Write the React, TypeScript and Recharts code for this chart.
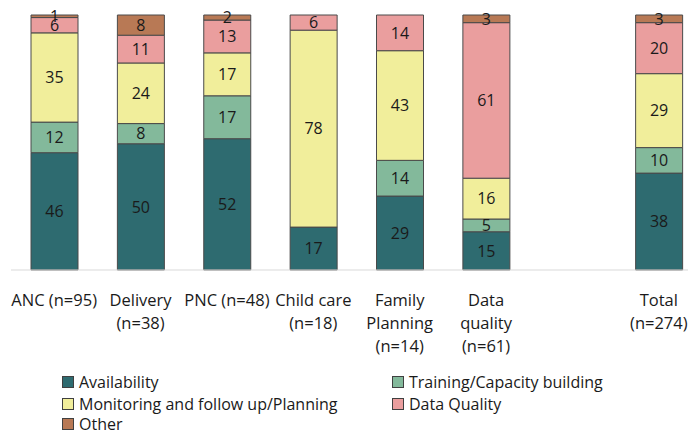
import { BarChart, Bar, XAxis, YAxis, Legend, LabelList } from 'recharts';

const categories = [
  ['ANC (n=95)'],
  ['Delivery', '(n=38)'],
  ['PNC (n=48)'],
  ['Child care', '(n=18)'],
  ['Family', 'Planning', '(n=14)'],
  ['Data', 'quality', '(n=61)'],
  [''],
  ['Total', '(n=274)'],
];

const availability = [46, 50, 52, 17, 29, 15, 0, 38];
const training = [12, 8, 17, 0, 14, 5, 0, 10];
const monitoring = [35, 24, 17, 78, 43, 16, 0, 29];
const dataQuality = [6, 11, 13, 6, 14, 61, 0, 20];
const other = [1, 8, 2, 0, 0, 3, 0, 3];

const seriesList = [
  { key: 'availability', name: 'Availability', color: '#2E6B70' },
  { key: 'training', name: 'Training/Capacity building', color: '#83B99B' },
  { key: 'monitoring', name: 'Monitoring and follow up/Planning', color: '#F1EE9B' },
  { key: 'dataQuality', name: 'Data Quality', color: '#EA9E9E' },
  { key: 'other', name: 'Other', color: '#B87955' },
];

const data = categories.map((lines, i) => ({
  id: String(i),
  lines,
  availability: availability[i],
  training: training[i],
  monitoring: monitoring[i],
  dataQuality: dataQuality[i],
  other: other[i],
}));

const FONT = '"Open Sans", sans-serif';

const CategoryTick = ({ x, y, payload }: { x?: number; y?: number; payload?: { index: number } }) => {
  const lines = categories[payload?.index ?? 0];
  return (
    <text textAnchor="middle" fontSize={16.5} fill="#1a1a1a" fontFamily={FONT}>
      {lines.map((l, i) => (
        <tspan key={i} x={x} y={(y ?? 0) + 34 + i * 23}>
          {l}
        </tspan>
      ))}
    </text>
  );
};

const LegendBox = () => {
  // two-column legend, same order as the series; last row kept short so it stays inside the page
  return (
    <div
      style={{
        display: 'grid',
        gridTemplateColumns: '330px 300px',
        gridTemplateRows: '22px 22px 18px',
        fontFamily: FONT,
        fontSize: 16,
        lineHeight: '16px',
        color: '#1a1a1a',
      }}
    >
      {seriesList.map((s) => (
        <div key={s.key} style={{ display: 'flex', alignItems: 'center', height: '100%', whiteSpace: 'nowrap' }}>
          <span style={{ width: 10, height: 10, background: s.color, border: '1px solid #404040', marginRight: 5, flexShrink: 0 }} />
          <span>{s.name}</span>
        </div>
      ))}
    </div>
  );
};

const hideZero = (v: unknown) => (v === 0 ? '' : (v as number));

export default function App() {
  return (
    <div style={{ position: 'absolute', left: 0, top: 0, width: 688, height: 433, overflow: 'hidden', background: '#fff' }}>
      <BarChart
        width={702}
        height={433}
        data={data}
        stackOffset="expand"
        barSize={47}
        margin={{ top: 15, right: 0, left: 11, bottom: 0 }}
      >
        <XAxis
          dataKey="id"
          height={163}
          tick={<CategoryTick />}
          tickLine={false}
          tickSize={0}
          axisLine={{ stroke: '#d9d9d9' }}
          interval={0}
        />
        <YAxis hide domain={[0, 1]} />
        <Legend
          layout="horizontal"
          verticalAlign="middle"
          align="center"
          content={<LegendBox />}
          wrapperStyle={{ position: 'absolute', top: 371, left: 62, width: 640 }}
        />
        {seriesList.map((s) => (
          <Bar
            key={s.key}
            dataKey={s.key}
            name={s.name}
            stackId="a"
            fill={s.color}
            stroke="#4a4a4a"
            strokeWidth={1}
            isAnimationActive={false}
          >
            <LabelList
              dataKey={s.key}
              position="center"
              formatter={hideZero}
              fill="#1a1a1a"
              fontSize={16}
              fontFamily={FONT}
            />
          </Bar>
        ))}
      </BarChart>
    </div>
  );
}
